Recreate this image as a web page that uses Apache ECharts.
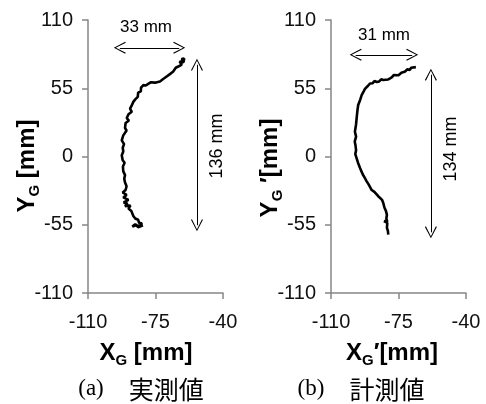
<!DOCTYPE html>
<html>
<head>
<meta charset="utf-8">
<script src="https://cdn.jsdelivr.net/npm/echarts@6/dist/echarts.min.js"></script>
<style>html,body{margin:0;padding:0;background:#fff}#c{width:486px;height:404px}</style>
</head>
<body>
<div id="c"></div>
<script>
// measured trajectory (a) 実測値  [X_G, Y_G] in mm
var seriesA = [[-60.3,77.0],[-61.5,78.5],[-60.1,79.0],[-60.5,76.0],[-62.5,76.5],[-61.4,74.0],[-63.2,72.5],[-64.5,71.5],[-64.0,70.0],[-65.8,68.5],[-67.0,67.0],[-66.5,65.8],[-69.2,64.5],[-70.5,63.0],[-71.0,61.5],[-72.7,60.5],[-73.5,60.8],[-75.3,59.5],[-76.0,58.2],[-77.5,59.8],[-78.8,58.5],[-80.0,57.2],[-79.0,56.8],[-81.3,57.5],[-82.5,55.5],[-83.1,54.5],[-82.6,52.5],[-84.0,51.5],[-84.8,50.5],[-84.2,48.0],[-85.5,46.0],[-86.5,44.0],[-85.8,42.5],[-87.5,40.5],[-88.2,38.5],[-87.3,36.0],[-89.0,34.0],[-89.9,31.0],[-88.8,29.0],[-90.5,27.0],[-90.8,23.0],[-90.0,21.0],[-91.7,17.0],[-92.5,13.0],[-91.3,10.0],[-92.0,7.0],[-91.7,4.0],[-92.5,1.0],[-92.0,-3.0],[-91.0,-5.0],[-91.9,-8.0],[-91.7,-12.0],[-90.8,-15.0],[-91.2,-18.0],[-90.8,-21.0],[-90.0,-24.0],[-90.5,-27.0],[-92.0,-29.0],[-90.0,-31.0],[-91.7,-33.0],[-89.0,-35.0],[-91.5,-37.0],[-89.5,-38.0],[-90.8,-40.0],[-88.0,-39.5],[-89.0,-42.0],[-87.5,-44.0],[-88.2,-45.0],[-86.5,-48.0],[-85.5,-50.0],[-84.0,-51.0],[-83.5,-53.5],[-82.0,-54.0],[-83.1,-56.0],[-85.0,-55.5],[-87.0,-56.5],[-85.5,-54.5],[-84.0,-57.0],[-81.5,-55.5]];
// computed trajectory (b) 計測値  [X_G', Y_G'] in mm
var seriesB = [[-66.0,72.0],[-67.0,71.0],[-68.5,71.5],[-69.1,69.8],[-70.5,70.2],[-71.5,68.5],[-72.5,67.0],[-73.5,67.5],[-75.0,65.5],[-76.0,65.0],[-77.5,65.6],[-78.5,63.8],[-79.4,63.5],[-80.5,62.0],[-81.5,63.5],[-82.9,61.6],[-84.0,62.2],[-85.0,60.5],[-86.3,60.0],[-87.5,60.8],[-88.5,59.0],[-89.8,58.8],[-90.8,57.0],[-91.5,55.5],[-92.4,54.5],[-93.2,52.0],[-94.1,49.5],[-94.8,46.0],[-95.9,41.5],[-96.3,37.0],[-96.7,31.0],[-97.0,26.0],[-97.6,20.0],[-97.0,16.0],[-97.7,12.0],[-97.3,9.0],[-97.0,5.0],[-97.4,2.0],[-96.7,-1.5],[-96.0,-5.0],[-95.0,-9.0],[-94.2,-12.0],[-93.5,-14.5],[-92.4,-17.5],[-91.5,-20.0],[-90.5,-22.5],[-89.5,-24.0],[-88.9,-27.0],[-87.5,-28.5],[-86.5,-30.0],[-85.5,-32.0],[-84.5,-33.5],[-83.5,-35.0],[-82.9,-37.5],[-82.0,-39.0],[-82.3,-41.0],[-81.5,-44.0],[-81.0,-47.0],[-81.3,-50.0],[-80.8,-52.5],[-82.5,-52.0],[-80.8,-53.5],[-81.0,-57.5],[-80.5,-60.0],[-80.3,-63.0]];
var xTicks = [-110, -75, -40];
var yTicks = [-110, -55, 0, 55, 110];
// dimension arrows (data coords): [x1,y1,x2,y2]
var arrowsA = [[-93.5, 87.6, -62.7, 87.6], [-53.5, 73.9, -53.5, -55.4]];
var arrowsB = [[-97.2, 81.9, -67.9, 81.9], [-58.2, 65.9, -58.2, -61.1]];
var dimLabelsA = ['33 mm', '136 mm'];
var dimLabelsB = ['31 mm', '134 mm'];

var chev = 'path://M0,0 L6,11 L5,11.6 L0,2 L-5,11.6 L-6,11 Z';
var axisGray = '#868686';
function xAx(gi) {
  return {type:'value', gridIndex:gi, min:xTicks[0], max:xTicks[xTicks.length-1],
    axisLine:{onZero:false, lineStyle:{color:axisGray, width:1.5}},
    axisTick:{show:true, length:6, customValues:xTicks, lineStyle:{color:axisGray, width:1.5}},
    axisLabel:{customValues:xTicks, fontSize:20, color:'#111', margin:19, fontFamily:'Liberation Sans'},
    splitLine:{show:false}};
}
function yAx(gi) {
  return {type:'value', gridIndex:gi, min:yTicks[0], max:yTicks[yTicks.length-1], interval:55,
    axisLine:{show:true, onZero:false, lineStyle:{color:axisGray, width:1.5}},
    axisTick:{show:true, length:6, lineStyle:{color:axisGray, width:1.5}},
    axisLabel:{fontSize:20, color:'#111', margin:15, fontFamily:'Liberation Sans'},
    splitLine:{show:false}};
}
function arrowLines(arr) {
  return arr.map(function(a){ return [{coord:[a[0],a[1]]},{coord:[a[2],a[3]]}]; });
}
var rich = {
  b:{fontSize:24, fontWeight:'bold', fontFamily:'Liberation Sans', color:'#000', lineHeight:31},
  s:{fontSize:15, fontWeight:'bold', fontFamily:'Liberation Sans', color:'#000', lineHeight:15, verticalAlign:'bottom'}
};
var capRich = {
  p:{fontSize:23, fontFamily:'Liberation Serif', color:'#000'},
  c:{fontSize:25, fontFamily:'Noto Sans CJK JP', color:'#000'}
};
function txt(x, y, t, opts) {
  var o = {type:'text', x:x, y:y, style:Object.assign({text:t, align:'center', verticalAlign:'middle', fill:'#000', fontFamily:'Liberation Sans', fontSize:17}, opts || {})};
  if (opts && opts.rotation !== undefined) { o.rotation = opts.rotation; delete o.style.rotation; }
  return o;
}
var chart = echarts.init(document.getElementById('c'), null, {renderer:'canvas'});
chart.setOption({
  animation:false,
  backgroundColor:'#fff',
  grid:[{left:88, top:20, width:135, height:273}, {left:331, top:20, width:135, height:273}],
  xAxis:[xAx(0), xAx(1)],
  yAxis:[yAx(0), yAx(1)],
  series:[
    {type:'line', xAxisIndex:0, yAxisIndex:0, data:seriesA, showSymbol:false, lineStyle:{color:'#000', width:2.6}, z:3,
      markLine:{silent:true, symbol:[chev, chev], symbolSize:[12,12], lineStyle:{color:'#000', width:1, type:'solid'}, label:{show:false}, data:arrowLines(arrowsA)}},
    {type:'line', xAxisIndex:1, yAxisIndex:1, data:seriesB, showSymbol:false, lineStyle:{color:'#000', width:2.6}, z:3,
      markLine:{silent:true, symbol:[chev, chev], symbolSize:[12,12], lineStyle:{color:'#000', width:1, type:'solid'}, label:{show:false}, data:arrowLines(arrowsB)}}
  ],
  graphic:[
    txt(146, 27, dimLabelsA[0]),
    txt(217, 146, dimLabelsA[1], {rotation:Math.PI/2, fontSize:18}),
    txt(384, 35, dimLabelsB[0]),
    txt(451, 149, dimLabelsB[1], {rotation:Math.PI/2, fontSize:18}),
    txt(146, 353, '{b|X}{s|G}{b| [mm]}', {rich:rich}),
    txt(392, 353, '{b|X}{s|G}{b|′[mm]}', {rich:rich}),
    txt(27, 166, '{b|Y}{s|G}{b| [mm]}', {rich:rich, rotation:Math.PI/2}),
    txt(270, 168, '{b|Y}{s|G}{b| ′[mm]}', {rich:rich, rotation:Math.PI/2}),
    txt(141, 389, '{p|(a)}{c|　実測値}', {rich:capRich}),
    txt(361, 389, '{p|(b)}{c|　計測値}', {rich:capRich})
  ]
});
</script>
</body>
</html>
